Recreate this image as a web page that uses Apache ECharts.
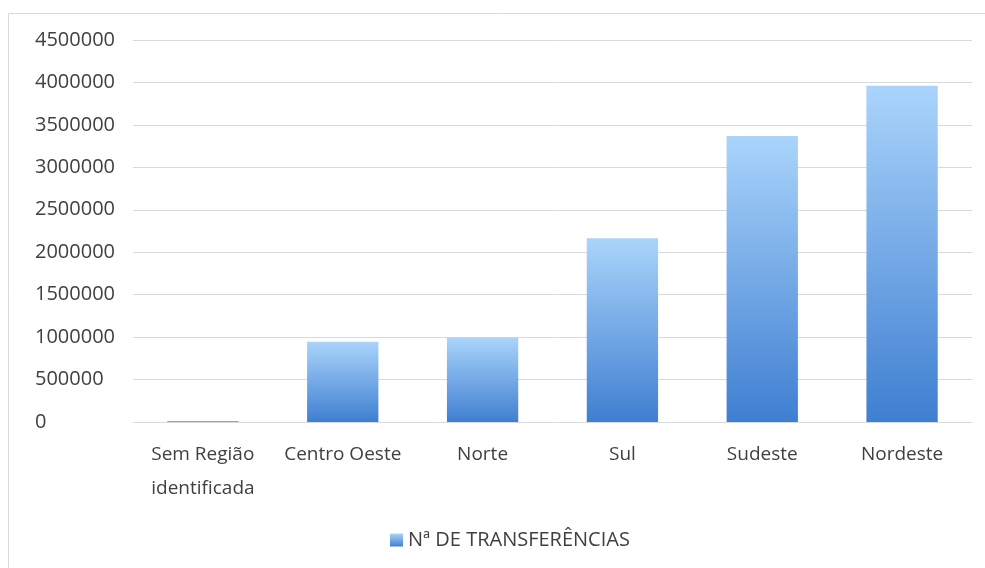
<!DOCTYPE html>
<html>
<head>
<meta charset="utf-8">
<script src="https://cdn.jsdelivr.net/npm/echarts@6/dist/echarts.min.js"></script>
<style>
  html, body { margin: 0; padding: 0; background: #fff; }
  #chart { width: 985px; height: 568px; }
</style>
</head>
<body>
<div id="chart"></div>
<script>
var categories = ['Sem Região\nidentificada', 'Centro Oeste', 'Norte', 'Sul', 'Sudeste', 'Nordeste'];
var transferencias = [12000, 945000, 995000, 2165000, 3370000, 3960000];
var seriesName = 'Nª DE TRANSFERÊNCIAS';

var chart = echarts.init(document.getElementById('chart'));
var barColor = new echarts.graphic.LinearGradient(0, 0, 0, 1, [
    { offset: 0, color: '#aad4fb' },
    { offset: 1, color: '#3f7fd1' }
]);
var textFont = '"Open Sans", sans-serif';

var option = {
    backgroundColor: '#ffffff',
    animation: false,
    // moldura cinza do gráfico
    graphic: [{
        type: 'rect',
        shape: { x: 8.5, y: 13.5, width: 1000, height: 600 },
        style: { fill: 'none', stroke: '#d9d9d9', lineWidth: 1 },
        silent: true
    }],
    grid: { left: 133, right: 13, top: 40, bottom: 146 },
    legend: {
        top: 525,
        left: 385,
        icon: 'rect',
        itemWidth: 13,
        itemHeight: 13,
        itemGap: 6,
        textStyle: { color: '#404040', fontSize: 20, fontFamily: textFont },
        data: [seriesName]
    },
    xAxis: {
        type: 'category',
        data: categories,
        axisLine: { lineStyle: { color: '#d9d9d9', width: 1 } },
        axisTick: { show: false },
        axisLabel: {
            interval: 0,
            margin: 16,
            color: '#404040',
            fontSize: 19,
            fontFamily: textFont,
            lineHeight: 34,
            formatter: function (v) { return '{l|' + v.split('\n').join('}\n{l|') + '}'; },
            rich: { l: { align: 'left', fontSize: 19, lineHeight: 34, fontFamily: textFont, color: '#404040' } }
        }
    },
    yAxis: {
        type: 'value',
        min: 0,
        max: 4500000,
        interval: 500000,
        axisLine: { show: false },
        axisTick: { show: false },
        splitLine: { lineStyle: { color: '#d9d9d9', width: 1 } },
        axisLabel: {
            align: 'left',
            margin: 98,
            color: '#404040',
            fontSize: 20,
            fontFamily: textFont,
            formatter: function (v) { return String(v); }
        }
    },
    series: [{
        name: seriesName,
        type: 'bar',
        barWidth: '51%',
        itemStyle: { color: barColor },
        data: transferencias
    }]
};
chart.setOption(option);
</script>
</body>
</html>
